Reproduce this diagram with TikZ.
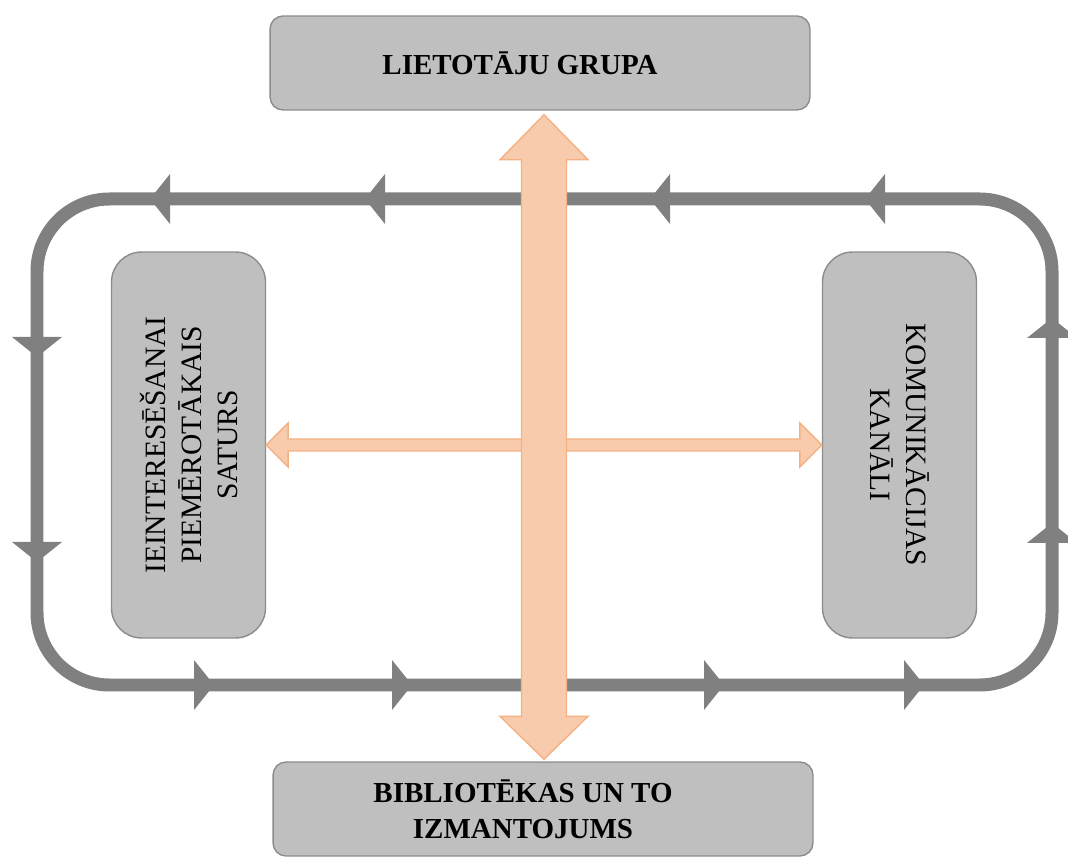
\documentclass[tikz,border=0pt]{standalone}
\usepackage{fontspec}
\setmainfont{Liberation Serif}
\usetikzlibrary{calc}
\definecolor{boxgray}{HTML}{BFBFBF}
\definecolor{boxedge}{HTML}{8C8C8C}
\definecolor{loopgray}{HTML}{808080}
\definecolor{orangefill}{HTML}{F8CBAD}
\definecolor{orangeedge}{HTML}{F4B183}
\tikzset{
	widebox/.style={draw=boxedge,fill=boxgray,rounded corners=0.26cm,line width=0.8pt,minimum width=10.8cm,minimum height=1.88cm,align=center,font=\fontsize{16.5}{20.5}\selectfont\bfseries},
	tallbox/.style={draw=boxedge,fill=boxgray,rounded corners=0.6cm,line width=0.8pt,minimum width=7.72cm,minimum height=3.08cm,align=center,font=\fontsize{16.8}{20.5}\selectfont},
	loopline/.style={draw=loopgray,line width=0.26cm,rounded corners=1.45cm},
	looptip/.style={fill=loopgray},
	bigarrow/.style={draw=orangeedge,fill=orangefill,line width=0.8pt,line join=miter}
}
\begin{document}
\begin{tikzpicture}[x=0.02cm,y=-0.02cm]
	\useasboundingbox (0,0) rectangle (1068,857);
	% boxes
	\node[widebox] (grupa) at (540,63) {LIETOTĀJU GRUPA\hspace*{0.8cm}};
	\node[widebox] (biblio) at (543,809) {BIBLIOTĒKAS UN TO\hspace*{0.8cm}\\IZMANTOJUMS\hspace*{0.8cm}};
	\node[tallbox,rotate=90] (saturs) at (188.5,445) {IEINTERESĒŠANAI\\PIEMĒROTĀKAIS\\SATURS};
	\node[tallbox,rotate=-90] (kanali) at (899.5,445) {KOMUNIKĀCIJAS\\KANĀLI};
	% loop
	\draw[loopline] (37,199) rectangle (1052,685);
	\foreach \x in {150,365,650,865}
		\fill[looptip] (\x,199) -- ++(20,-25) -- ++(0,50) -- cycle;
	\foreach \x in {214,412,724,924}
		\fill[looptip] (\x,685) -- ++(-20,-25) -- ++(0,50) -- cycle;
	\foreach \y in {357,562}
		\fill[looptip] (37,\y) -- ++(-25,-20) -- ++(50,0) -- cycle;
	\foreach \y in {318,523}
		\fill[looptip] (1052,\y) -- ++(-25,20) -- ++(50,0) -- cycle;
	% orange arrows
	\coordinate (up) at ($(grupa.south)+(4,4)$);
	\coordinate (down) at ($(biblio.north)+(1,-2)$);
	\coordinate (left) at (saturs.south);
	\coordinate (right) at (kanali.south);
	\draw[bigarrow] (left) -- ++(22,-22) -- ++(0,16) -- ($(right)+(-22,-6)$) -- ++(0,-16) -- (right)
		-- ++(-22,22) -- ++(0,-16) -- ($(left)+(22,6)$) -- ++(0,16) -- cycle;
	\draw[bigarrow] (up) -- ++(44,45) -- ++(-21.5,0) -- ($(down)+(22.5,-43)$) -- ++(21.5,0) -- (down)
		-- ++(-44,-43) -- ++(21.5,0) -- ($(up)+(-22.5,45)$) -- ++(-21.5,0) -- cycle;
\end{tikzpicture}
\end{document}
